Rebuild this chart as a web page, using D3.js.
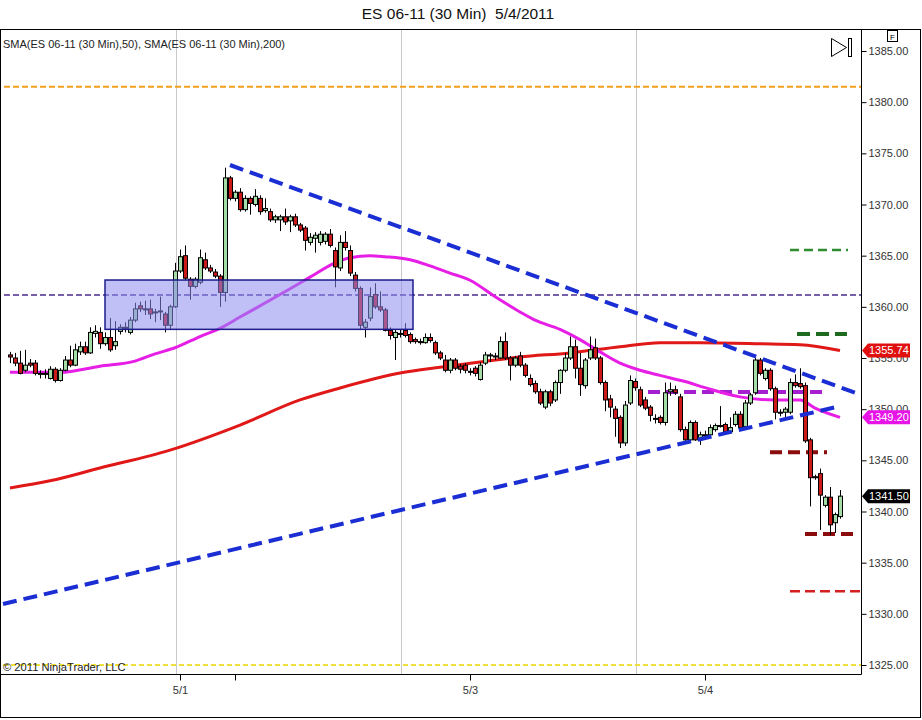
<!DOCTYPE html>
<html><head><meta charset="utf-8">
<script src="https://cdn.jsdelivr.net/npm/d3@7/dist/d3.min.js"></script>
<style>body{margin:0;background:#fff;} svg{display:block;font-family:"Liberation Sans",Arial,sans-serif;}</style>
</head><body><svg id="c" width="922" height="720"></svg>
<script>
// ---------- DATA ----------
const title = "ES 06-11 (30 Min)  5/4/2011";
const indicatorLabel = "SMA(ES 06-11 (30 Min),50), SMA(ES 06-11 (30 Min),200)";
const copyright = "\u00A9 2011 NinjaTrader, LLC";

const opens = [1355.3,1355.0,1354.5,1353.8,1354.5,1354.5,1353.4,1353.5,1353.0,1353.9,1352.8,1353.8,1354.8,1354.3,1355.6,1356.1,1355.5,1357.4,1357.5,1356.4,
1357.0,1356.2,1357.6,1357.9,1357.5,1358.7,1360.1,1359.7,1359.8,1359.5,1359.5,1359.3,1358.2,1360.0,1363.5,1365.0,1362.7,1362.0,1362.4,1364.6,
1363.8,1363.4,1363.0,1361.4,1372.6,1370.6,1371.2,1369.5,1370.6,1370.0,1370.6,1369.4,1369.3,1368.5,1368.5,1368.8,1368.4,1368.8,1368.0,1367.7,
1366.3,1366.7,1366.3,1366.4,1367.1,1365.5,1363.8,1366.3,1365.5,1363.1,1361.8,1358.0,1358.9,1361.2,1360.0,1359.7,1357.7,1357.0,1357.4,1357.7,
1357.3,1356.8,1356.6,1356.5,1357.0,1356.5,1355.5,1354.8,1353.8,1354.8,1354.2,1354.3,1353.7,1354.0,1352.9,1354.5,1355.2,1355.2,1355.0,1356.6,
1355.0,1354.3,1355.2,1354.3,1353.0,1352.5,1351.7,1350.2,1351.7,1350.9,1352.6,1353.8,1355.0,1356.1,1354.0,1352.3,1355.0,1356.0,1355.0,1352.6,
1351.0,1350.0,1349.2,1346.7,1350.6,1352.7,1351.9,1350.9,1350.2,1349.1,1349.2,1348.7,1351.7,1351.9,1351.2,1348.0,1347.0,1348.7,1347.0,1347.5,
1347.5,1348.0,1348.4,1348.5,1347.8,1348.5,1349.5,1348.3,1350.6,1351.6,1354.8,1353.0,1353.8,1352.0,1349.7,1349.7,1349.7,1352.6,1352.5,1352.3,
1347.0,1343.3,1343.7,1340.6,1341.4,1338.9,1339.5];
const highs = [1355.6,1355.5,1355.7,1355.8,1354.9,1354.8,1353.8,1353.9,1354.2,1354.1,1354.0,1355.2,1356.2,1356.4,1356.6,1356.6,1358.0,1358.2,1358.0,1357.5,
1358.9,1358.6,1358.3,1358.5,1359.0,1360.4,1360.5,1360.6,1360.7,1359.8,1361.0,1359.5,1360.2,1364.3,1365.6,1366.0,1362.9,1362.9,1365.6,1365.3,
1364.1,1363.7,1363.2,1373.6,1372.8,1371.4,1371.6,1370.9,1370.8,1371.5,1370.9,1370.6,1369.6,1369.0,1369.0,1369.6,1369.0,1369.1,1368.2,1367.9,
1367.2,1367.3,1367.4,1367.3,1367.6,1365.8,1367.0,1367.4,1366.0,1363.4,1362.0,1358.8,1361.9,1362.3,1361.5,1359.9,1358.0,1357.8,1357.8,1358.4,
1357.5,1357.0,1356.9,1357.4,1357.4,1356.7,1355.7,1355.3,1355.0,1355.0,1354.4,1354.5,1354.0,1354.2,1354.6,1355.6,1355.5,1355.5,1357.1,1357.5,
1355.2,1355.2,1355.6,1354.5,1353.4,1352.8,1352.0,1351.9,1351.9,1352.8,1353.9,1355.5,1357.1,1356.8,1355.5,1355.0,1357.1,1356.9,1355.2,1352.8,
1351.4,1350.3,1349.4,1350.8,1353.3,1353.0,1352.2,1351.2,1350.4,1349.5,1349.4,1352.6,1352.6,1352.3,1351.5,1348.3,1348.9,1348.9,1347.8,1347.9,
1348.5,1348.6,1350.3,1348.7,1349.2,1349.8,1349.8,1350.9,1351.6,1355.0,1355.0,1354.0,1354.0,1352.2,1350.0,1350.2,1353.0,1353.4,1354.0,1352.6,
1347.2,1343.6,1344.2,1341.6,1342.4,1339.9,1342.1];
const lows = [1354.5,1354.2,1353.4,1353.6,1354.1,1353.3,1353.0,1353.0,1352.9,1352.6,1352.7,1353.7,1354.1,1354.2,1355.3,1355.3,1355.4,1357.0,1355.9,1356.2,
1355.6,1355.8,1357.3,1357.5,1357.3,1358.5,1359.5,1359.2,1358.8,1358.5,1358.7,1357.5,1357.8,1359.9,1363.3,1362.6,1360.7,1361.8,1362.2,1363.6,
1363.3,1362.8,1360.0,1360.5,1370.4,1370.3,1369.3,1369.3,1369.0,1369.8,1369.0,1369.2,1368.3,1368.2,1367.4,1368.0,1367.3,1367.8,1367.3,1365.5,
1366.0,1365.3,1366.0,1366.1,1365.8,1361.9,1363.5,1365.5,1363.0,1361.5,1357.8,1357.0,1358.6,1359.8,1359.5,1357.6,1356.8,1354.8,1357.0,1357.0,
1356.4,1356.4,1356.3,1356.4,1356.5,1355.3,1354.8,1353.6,1353.5,1353.8,1353.5,1353.5,1353.3,1353.2,1352.8,1354.3,1354.6,1354.8,1354.9,1354.8,
1352.8,1354.1,1354.1,1353.1,1352.2,1351.5,1350.4,1350.0,1350.3,1350.7,1351.5,1353.6,1354.8,1353.0,1351.3,1352.0,1354.8,1354.8,1352.4,1349.8,
1349.2,1347.3,1346.2,1346.4,1350.4,1351.8,1350.2,1349.9,1348.8,1348.6,1348.5,1348.4,1351.3,1351.4,1347.8,1346.8,1346.8,1346.9,1346.5,1347.2,
1347.3,1347.8,1348.2,1347.6,1347.6,1348.3,1348.0,1348.0,1350.4,1351.4,1353.3,1352.8,1351.8,1349.0,1349.3,1349.0,1349.5,1352.1,1352.0,1346.7,
1340.5,1343.1,1338.2,1340.4,1337.7,1337.9,1339.3];
const closes = [1355.1,1354.5,1353.5,1354.3,1354.3,1353.5,1353.5,1353.4,1353.9,1352.8,1353.8,1354.8,1354.3,1355.8,1356.1,1355.5,1357.5,1357.6,1356.4,1357.0,
1355.8,1356.6,1358.0,1358.0,1358.7,1359.8,1359.8,1359.8,1359.3,1359.5,1359.6,1358.2,1360.0,1363.5,1364.9,1362.8,1362.0,1362.7,1364.8,1363.8,
1363.5,1363.0,1361.4,1372.6,1370.6,1371.2,1369.5,1370.6,1370.1,1370.8,1369.3,1369.6,1368.5,1368.8,1368.8,1368.3,1368.8,1368.0,1367.5,1366.5,
1366.8,1367.0,1367.1,1367.1,1366.0,1363.9,1366.3,1365.8,1363.3,1361.8,1358.2,1358.5,1361.0,1360.0,1359.7,1357.7,1357.2,1357.5,1357.3,1357.2,
1356.6,1356.6,1356.6,1357.0,1356.7,1355.5,1355.0,1353.8,1354.8,1354.0,1353.9,1353.8,1353.6,1353.5,1354.3,1355.3,1355.3,1355.1,1356.6,1355.0,
1354.3,1355.0,1354.3,1353.3,1352.4,1351.7,1350.6,1351.7,1350.6,1352.6,1353.8,1355.0,1356.1,1354.0,1352.4,1354.8,1355.8,1355.0,1352.6,1350.9,
1350.2,1349.1,1346.7,1350.4,1352.8,1352.1,1350.4,1350.1,1349.4,1349.1,1348.7,1351.6,1351.9,1351.6,1348.0,1347.0,1348.7,1347.0,1347.5,1347.5,
1348.2,1348.4,1348.4,1347.8,1348.2,1349.5,1348.2,1350.6,1351.4,1354.8,1353.5,1353.8,1352.0,1349.7,1349.7,1350.0,1352.6,1352.3,1352.2,1346.9,
1343.3,1343.4,1341.6,1341.4,1338.7,1339.7,1341.5];

// SMA(50) samples: [bar index, value]
const sma50Bars = [0,10,18,25,29,33,38,42,46,54,60,65,68,72,75,80,84,88,92,97,102,105,110,114,118,122,126,130,135,139,146,153,158,161,166];
const sma50Vals = [1353.6,1353.6,1354.2,1354.7,1355.4,1356.0,1357.1,1357.9,1359.0,1361.2,1362.9,1364.3,1364.8,1365.0,1364.9,1364.6,1364.0,1363.3,1362.6,1361.0,1359.5,1358.7,1357.8,1356.8,1355.6,1354.5,1353.8,1353.3,1352.7,1352.1,1351.2,1350.9,1350.9,1350.1,1349.20];
// SMA(200) samples
const sma200Bars = [0,8,18,32,46,58,66,78,86,94,102,112,122,130,138,150,158,166];
const sma200Vals = [1342.3,1343.0,1344.25,1346.0,1348.45,1350.9,1352.07,1353.53,1354.1,1354.6,1355.1,1355.5,1356.1,1356.5,1356.5,1356.4,1356.3,1355.74];

// session separators (bar index) and date ticks
const sessionBreaks = [33.2, 78.2, 125.2];
const dateTickBars = [34, 45, 92, 139];
const dateTickLabels = ["5/1", "", "5/3", "5/4"];
const priceTicks = [1325,1330,1335,1340,1345,1350,1355,1360,1365,1370,1375,1380,1385];

// drawn objects
const trendUpper = [[44, 1373.86], [169.6, 1351.5]];
const trendLower = [[-1.4, 1330.96], [166, 1350.3]];
const zoneBars = [19, 80.6];
const zonePrices = [1357.8, 1362.62];
const levelPrices = [1381.5, 1361.15, 1325.0, 1365.55, 1357.35, 1351.68, 1345.8, 1337.8, 1332.2];
const levelFrom   = [-3, -3, -3, 156, 157.4, 127.6, 152, 159, 156];
const levelTo     = [171, 171, 171, 167.6, 167.4, 162.6, 163.4, 169.4, 170];

// ---------- STYLE ----------
const levelStyle = [
  {c:"#f2a01c", w:2,   d:"6,3"},
  {c:"#4a2a8c", w:1.6, d:"6,3"},
  {c:"#f0e03a", w:2,   d:"5,3"},
  {c:"#2f8c2f", w:2.5, d:"9,5"},
  {c:"#1e6a1e", w:4,   d:"13,6"},
  {c:"#a41fd0", w:4,   d:"12,6"},
  {c:"#8a0c0c", w:4,   d:"12,6"},
  {c:"#8a0c0c", w:4,   d:"12,6"},
  {c:"#d42020", w:2.5, d:"10,5"}
];

const svg = d3.select("#c");
const L = 1, R = 861, T = 30, B = 674;

const x = d3.scaleLinear().domain([0, 166]).range([10, 840]);
const y = d3.scaleLinear().domain([1325, 1385]).range([665, 51]);

// title
svg.append("text").attr("x", 458).attr("y", 19).attr("text-anchor", "middle")
  .attr("font-size", 15.5).attr("fill", "#111").style("white-space", "pre").text(title);

// frames
svg.append("rect").attr("x", 0.5).attr("y", 29.5).attr("width", 920).attr("height", 688)
  .attr("fill", "none").attr("stroke", "#000");

const defs = svg.append("defs");
defs.append("clipPath").attr("id", "clip").append("rect")
  .attr("x", L).attr("y", T).attr("width", R - L).attr("height", B - T);

const g = svg.append("g").attr("clip-path", "url(#clip)");

// session gridlines
g.selectAll("line.grid").data(sessionBreaks).join("line")
  .attr("x1", d => Math.round(x(d)) + 0.5).attr("x2", d => Math.round(x(d)) + 0.5)
  .attr("y1", T).attr("y2", B).attr("stroke", "#c8c8c8").attr("stroke-width", 1);

// horizontal levels
g.selectAll("line.level").data(levelPrices).join("line")
  .attr("x1", (d, i) => x(levelFrom[i])).attr("x2", (d, i) => x(levelTo[i]))
  .attr("y1", d => y(d)).attr("y2", d => y(d))
  .attr("stroke", (d, i) => levelStyle[i].c).attr("stroke-width", (d, i) => levelStyle[i].w)
  .attr("stroke-dasharray", (d, i) => levelStyle[i].d);

// SMA lines
const line = d3.line().x(d => x(d[0])).y(d => y(d[1])).curve(d3.curveMonotoneX);
g.append("path").datum(sma200Bars.map((b, i) => [b, sma200Vals[i]]))
  .attr("d", line).attr("fill", "none").attr("stroke", "#e01818").attr("stroke-width", 3);
g.append("path").datum(sma50Bars.map((b, i) => [b, sma50Vals[i]]))
  .attr("d", line).attr("fill", "none").attr("stroke", "#e61ee6").attr("stroke-width", 3);

// candles
const bars = opens.map((o, i) => ({i, o, h: highs[i], l: lows[i], c: closes[i]}));
const cg = g.append("g");
cg.selectAll("line.wick").data(bars).join("line")
  .attr("x1", d => Math.round(x(d.i)) + 0.5).attr("x2", d => Math.round(x(d.i)) + 0.5)
  .attr("y1", d => y(d.h)).attr("y2", d => y(d.l)).attr("stroke", "#000").attr("stroke-width", 1);
cg.selectAll("rect.body").data(bars).join("rect")
  .attr("x", d => Math.round(x(d.i)) - 1.5).attr("width", 4)
  .attr("y", d => Math.min(y(d.o), y(d.c)))
  .attr("height", d => Math.max(1, Math.abs(y(d.o) - y(d.c))))
  .attr("fill", d => d.c > d.o ? "#a6dca6" : (d.c < d.o ? "#cc1a1a" : "#888"))
  .attr("stroke", "#000").attr("stroke-width", 1);

// zone box
g.append("rect")
  .attr("x", x(zoneBars[0])).attr("width", x(zoneBars[1]) - x(zoneBars[0]))
  .attr("y", y(zonePrices[1])).attr("height", y(zonePrices[0]) - y(zonePrices[1]))
  .attr("fill", "#8c8cf0").attr("fill-opacity", 0.55)
  .attr("stroke", "#1c1c8c").attr("stroke-width", 1.5);

// trend lines
[trendUpper, trendLower].forEach(tl => {
  g.append("line").attr("x1", x(tl[0][0])).attr("y1", y(tl[0][1]))
    .attr("x2", x(tl[1][0])).attr("y2", y(tl[1][1]))
    .attr("stroke", "#1a2ed4").attr("stroke-width", 4).attr("stroke-dasharray", "14,7");
});

// plot borders
svg.append("line").attr("x1", R + 0.5).attr("x2", R + 0.5).attr("y1", T).attr("y2", B + 0.5).attr("stroke", "#000");
svg.append("line").attr("x1", 0).attr("x2", R + 0.5).attr("y1", B + 0.5).attr("y2", B + 0.5).attr("stroke", "#000");

// price axis
const yAxis = d3.axisRight(y).tickValues(priceTicks).tickFormat(d3.format(".2f")).tickSize(5).tickPadding(2);
const ya = svg.append("g").attr("transform", `translate(${R + 0.5},0)`).call(yAxis);
ya.select(".domain").remove();
ya.selectAll("text").attr("font-size", 11).attr("fill", "#333").attr("font-family", "Liberation Sans, Arial, sans-serif");
ya.selectAll("line").attr("stroke", "#000");

// date axis
const xAxis = d3.axisBottom(x).tickValues(dateTickBars).tickFormat((d, i) => dateTickLabels[i]).tickSize(6).tickPadding(6);
const xa = svg.append("g").attr("transform", `translate(0,${B + 0.5})`).call(xAxis);
xa.select(".domain").remove();
xa.selectAll("text").attr("font-size", 11).attr("fill", "#333").attr("font-family", "Liberation Sans, Arial, sans-serif");
xa.selectAll("line").attr("stroke", "#000");

// value tags
const tagData = [
  {v: sma200Vals[sma200Vals.length - 1], c: "#e01010"},
  {v: sma50Vals[sma50Vals.length - 1], c: "#e614e6"},
  {v: closes[closes.length - 1], c: "#000"}
];
const tg = svg.append("g");
tagData.forEach(t => {
  const yy = y(t.v);
  tg.append("path")
    .attr("d", `M${R + 1},${yy} L${R + 7},${yy - 7} L${R + 49},${yy - 7} L${R + 49},${yy + 7} L${R + 7},${yy + 7} Z`)
    .attr("fill", t.c);
  tg.append("text").attr("x", R + 8).attr("y", yy + 4).attr("font-size", 11).attr("fill", "#fff")
    .text(d3.format(".2f")(t.v));
});

// texts
svg.append("text").attr("x", 3).attr("y", 48).attr("font-size", 11).attr("fill", "#222").text(indicatorLabel);
svg.append("text").attr("x", 3).attr("y", 671).attr("font-size", 11.2).attr("fill", "#222").text(copyright);

// F box and play icon
svg.append("rect").attr("x", 887.5).attr("y", 30.5).attr("width", 10).attr("height", 11).attr("fill", "#fff").attr("stroke", "#000");
svg.append("text").attr("x", 892.5).attr("y", 39.5).attr("text-anchor", "middle").attr("font-size", 8).text("F");
svg.append("path").attr("d", "M831.5,38.5 L846.5,47.5 L831.5,56.5 Z").attr("fill", "none").attr("stroke", "#000");
svg.append("rect").attr("x", 848.5).attr("y", 38.5).attr("width", 3).attr("height", 18).attr("fill", "none").attr("stroke", "#000");
</script></body></html>
